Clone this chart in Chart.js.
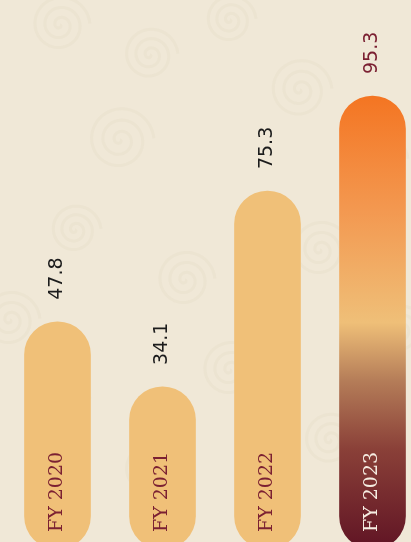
<!DOCTYPE html>
<html>
<head>
<meta charset="utf-8">
<script src="https://cdn.jsdelivr.net/npm/chart.js@4"></script>
<style>
  html, body { margin: 0; padding: 0; overflow: hidden; background: #f0e8d7; }
  #wrap { width: 432px; height: 560px; }
</style>
</head>
<body>
<div id="wrap"><canvas id="revChart" width="432" height="560"></canvas></div>
<script>
var years = ['FY 2020', 'FY 2021', 'FY 2022', 'FY 2023'];
var revenue = [47.8, 34.1, 75.3, 95.3];

var bgColor = '#f0e8d7';
var barColor = '#f0c078';
var maroon = '#7b2032';

// faint rose swirls in the background
var swirlSpots = [[60, 25, 30], [150, 55, 28], [120, 140, 34], [75, 230, 26], [10, 320, 30],
                  [185, 280, 30], [230, 20, 26], [300, 90, 32], [380, 160, 28], [320, 250, 30],
                  [60, 400, 30], [150, 470, 28], [230, 370, 30], [330, 440, 28], [400, 330, 26]];

function drawSwirl(ctx, cx, cy, r) {
    ctx.beginPath();
    for (var t = 0; t < Math.PI * 6; t += 0.1) {
        var rr = r * t / (Math.PI * 6);
        var px = cx + rr * Math.cos(t), py = cy + rr * Math.sin(t);
        if (t === 0) ctx.moveTo(px, py); else ctx.lineTo(px, py);
    }
    ctx.stroke();
}

var backdrop = {
    id: 'backdrop',
    beforeDraw: function(chart) {
        var ctx = chart.ctx;
        ctx.save();
        ctx.fillStyle = bgColor;
        ctx.fillRect(0, 0, chart.width, chart.height);
        ctx.strokeStyle = 'rgba(205, 188, 160, 0.09)';
        ctx.lineWidth = 3;
        swirlSpots.forEach(function(s) { drawSwirl(ctx, s[0], s[1], s[2]); });
        ctx.restore();
    }
};

var barLabels = {
    id: 'barLabels',
    afterDatasetsDraw: function(chart) {
        var ctx = chart.ctx;
        var meta = chart.getDatasetMeta(0);
        meta.data.forEach(function(bar, i) {
            ctx.save();
            ctx.translate(bar.x, bar.y - 22);
            ctx.rotate(-Math.PI / 2);
            ctx.textAlign = 'left';
            ctx.textBaseline = 'middle';
            ctx.font = '19px "DejaVu Sans"';
            ctx.fillStyle = i === 3 ? maroon : '#1c1c1c';
            ctx.fillText(revenue[i].toFixed(1), 0, 0);
            ctx.restore();

            ctx.save();
            ctx.translate(bar.x, bar.base - 17);
            ctx.rotate(-Math.PI / 2);
            ctx.textAlign = 'left';
            ctx.textBaseline = 'middle';
            ctx.font = '19px "DejaVu Serif"';
            ctx.fillStyle = i === 3 ? '#f6ede2' : maroon;
            ctx.fillText(years[i], 0, 0);
            ctx.restore();
        });
    }
};

function barFill(c) {
    var chart = c.chart;
    if (c.dataIndex !== 3 || !chart.chartArea) return barColor;
    var y = chart.scales.y;
    var top = y.getPixelForValue(revenue[3]);
    var bot = y.getPixelForValue(0);
    var g = chart.ctx.createLinearGradient(0, top, 0, bot);
    g.addColorStop(0, '#f47522');
    g.addColorStop(0.25, '#f39850');
    g.addColorStop(0.5, '#efbf78');
    g.addColorStop(0.63, '#b47c58');
    g.addColorStop(0.78, '#8a4038');
    g.addColorStop(1, '#601424');
    return g;
}

new Chart(document.getElementById('revChart').getContext('2d'), {
    type: 'bar',
    data: {
        labels: years,
        datasets: [{
            data: revenue,
            backgroundColor: barFill,
            barThickness: 66,
            borderRadius: 40,
            borderSkipped: false
        }]
    },
    options: {
        responsive: false,
        devicePixelRatio: 1,
        animation: false,
        layout: { padding: { left: 5, right: 7, top: 0, bottom: 11 } },
        plugins: { legend: { display: false }, tooltip: { enabled: false } },
        scales: {
            x: { display: false, offset: true },
            y: { display: false, min: 0, max: 115.5 }
        }
    },
    plugins: [backdrop, barLabels]
});
</script>
</body>
</html>
